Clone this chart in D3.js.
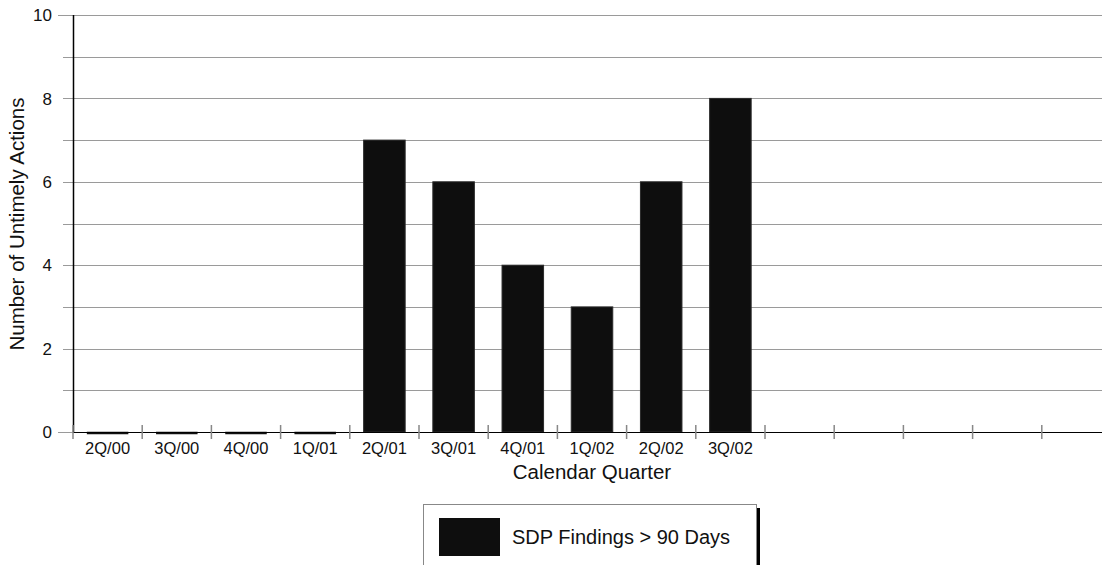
<!DOCTYPE html>
<html>
<head>
<meta charset="utf-8">
<script src="https://cdn.jsdelivr.net/npm/d3@7"></script>
<style>
  html, body { margin: 0; padding: 0; background: #fff; }
  svg { display: block; font-family: "Liberation Sans", Arial, sans-serif; }
</style>
</head>
<body>
<svg id="chart" width="1102" height="565"></svg>
<script>
const categories = ["2Q/00","3Q/00","4Q/00","1Q/01","2Q/01","3Q/01","4Q/01","1Q/02","2Q/02","3Q/02","","","","",""];
const values = [0, 0, 0, 0, 7, 6, 4, 3, 6, 8, null, null, null, null, null];
const yTicks = [0, 2, 4, 6, 8, 10];
const yGrid = [0,1,2,3,4,5,6,7,8,9,10];
const seriesName = "SDP Findings > 90 Days";
const xTitle = "Calendar Quarter";
const yTitle = "Number of Untimely Actions";

(function () {
const svg = d3.select("#chart");
const pLeft = 73, pRight = 1111, pTop = 15, pBottom = 432;

const x = d3.scaleBand().domain(d3.range(categories.length)).range([pLeft, pRight])
  .paddingInner(0.4).paddingOuter(0.2);
const step = x.step();
const y = d3.scaleLinear().domain([0, 10]).range([pBottom, pTop]);

// gridlines
svg.append("g").selectAll("line").data(yGrid).join("line")
  .attr("x1", d => (d === 0 || d === 10) ? 58 : 63)
  .attr("x2", pRight)
  .attr("y1", d => Math.round(y(d)) + 0.5)
  .attr("y2", d => Math.round(y(d)) + 0.5)
  .attr("stroke", "#9a9a9a").attr("stroke-width", 1);

// y tick labels
svg.append("g").selectAll("text").data(yTicks).join("text")
  .attr("x", 52).attr("y", d => y(d))
  .attr("dy", "0.36em")
  .attr("text-anchor", "end")
  .attr("font-size", 17).attr("fill", "#111")
  .text(d => d);

// bars
const bars = values.map((v, i) => ({ v, i })).filter(d => d.v !== null);
svg.append("g").selectAll("rect").data(bars.filter(d => d.v > 0)).join("rect")
  .attr("x", d => x(d.i))
  .attr("y", d => y(d.v))
  .attr("width", x.bandwidth())
  .attr("height", d => y(0) - y(d.v))
  .attr("fill", "#0e0e0e").attr("stroke", "#2a2a2a").attr("stroke-width", 1);
// zero-value bars drawn as a flat bar at the baseline
svg.append("g").selectAll("line").data(bars.filter(d => d.v === 0)).join("line")
  .attr("x1", d => x(d.i)).attr("x2", d => x(d.i) + x.bandwidth())
  .attr("y1", y(0) + 1).attr("y2", y(0) + 1)
  .attr("stroke", "#111").attr("stroke-width", 2.5);

// axes lines
svg.append("line").attr("x1", pLeft + 0.5).attr("x2", pLeft + 0.5)
  .attr("y1", pTop).attr("y2", pBottom + 0.5).attr("stroke", "#000").attr("stroke-width", 1.5);
svg.append("line").attr("x1", pLeft).attr("x2", pRight)
  .attr("y1", pBottom + 0.5).attr("y2", pBottom + 0.5).attr("stroke", "#000").attr("stroke-width", 1.2);

// x ticks at band boundaries
svg.append("g").selectAll("line").data(d3.range(categories.length)).join("line")
  .attr("x1", i => pLeft + i * step).attr("x2", i => pLeft + i * step)
  .attr("y1", pBottom - 7).attr("y2", pBottom + 7)
  .attr("stroke", "#888").attr("stroke-width", 1.5);

// x tick labels
svg.append("g").selectAll("text").data(categories.map((c, i) => ({ c, i }))).join("text")
  .attr("x", d => x(d.i) + x.bandwidth() / 2)
  .attr("y", 454)
  .attr("text-anchor", "middle")
  .attr("font-size", 16.5).attr("fill", "#111")
  .text(d => d.c);

// axis titles
svg.append("text").attr("x", (pLeft + pRight) / 2).attr("y", 479)
  .attr("text-anchor", "middle").attr("font-size", 20.5).attr("fill", "#111")
  .text(xTitle);
svg.append("text").attr("transform", "translate(24,224) rotate(-90)")
  .attr("text-anchor", "middle").attr("font-size", 20.5).attr("fill", "#111")
  .text(yTitle);

// legend
const lg = svg.append("g");
lg.append("rect").attr("x", 757).attr("y", 508).attr("width", 3).attr("height", 80).attr("fill", "#000");
lg.append("rect").attr("x", 423.5).attr("y", 504.5).attr("width", 333).attr("height", 80)
  .attr("fill", "#fff").attr("stroke", "#888").attr("stroke-width", 1);
lg.append("rect").attr("x", 439).attr("y", 518).attr("width", 61).attr("height", 38).attr("fill", "#0e0e0e");
lg.append("text").attr("x", 512).attr("y", 537).attr("dy", "0.36em")
  .attr("font-size", 20).attr("fill", "#111").text(seriesName);
})();
</script>
</body>
</html>
